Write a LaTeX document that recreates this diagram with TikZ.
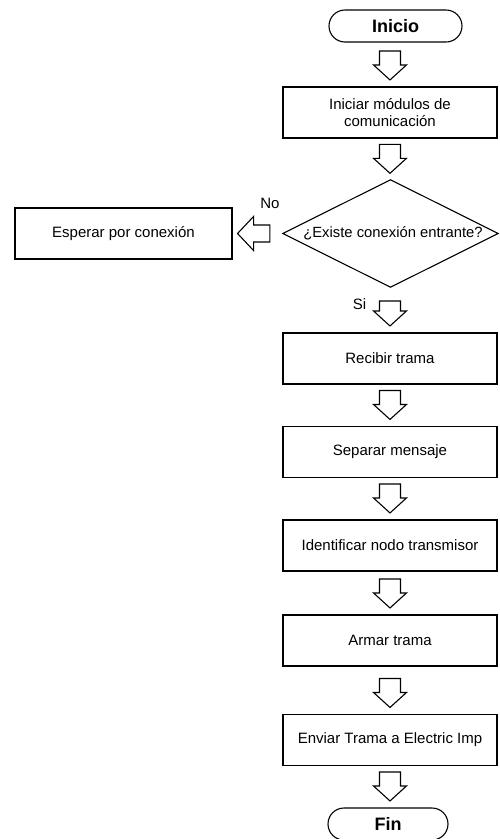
\documentclass[tikz,border=0pt]{standalone}
\usepackage{fontspec}
\setmainfont{Liberation Sans}
\usetikzlibrary{calc}
% down block arrow: #2 source, #3 target, #4 node giving the x position, #1 length
\newcommand\downarr[4][29]{%
  \draw[blockarr] let \p1=(#2.south), \p2=(#3.north), \p3=(#4.center) in
  (\x3-10.5pt,\y2+6.5pt+#1pt) -- (\x3+10.5pt,\y2+6.5pt+#1pt)
  -- (\x3+10.5pt,\y2+21.5pt) -- (\x3+16.5pt,\y2+21.5pt)
  -- (\x3,\y2+6.5pt) -- (\x3-16.5pt,\y2+21.5pt)
  -- (\x3-10.5pt,\y2+21.5pt) -- cycle;}
\begin{document}
\begin{tikzpicture}[x=1pt,y=-1pt,
  box/.style={draw, line width=1.1pt, minimum width=214pt, minimum height=51pt,
    inner sep=0pt, align=center, font=\fontsize{15}{17.5}\selectfont},
  term/.style={draw, line width=1.1pt, rounded corners=16pt, minimum height=32pt,
    inner sep=0pt, font=\bfseries\fontsize{18}{20}\selectfont},
  dec/.style={minimum width=215pt, minimum height=107pt, inner sep=0pt},
  dectext/.style={inner sep=0pt, font=\fontsize{14.8}{17}\selectfont},
  lbl/.style={inner sep=0pt, font=\fontsize{15}{17}\selectfont},
  blockarr/.style={draw, line width=1.1pt, fill=white, line join=miter}]
\useasboundingbox (0,0) rectangle (499,839);
\clip (0,0) rectangle (499,839);
\fill[white] (0,0) rectangle (499,839);

\node[term, minimum width=133pt] (start) at (395.5,26) {Inicio};
\node[box] (b1) at (390,112.5) {Iniciar módulos de\\comunicación};
\node[dec] (dec) at (390.5,233.5) {};
\draw[line width=1.1pt, line join=miter] (dec.north) -- (dec.east) -- (dec.south) -- (dec.west) -- cycle;
\node[dectext] (dect) at (393,233.5) {¿Existe conexión entrante?};
\node[box, minimum width=217pt] (wait) at (123.5,233.5) {Esperar por conexión};
\node[box] (b2) at (390,358.5) {Recibir trama};
\node[box] (b3) at (390,452) {Separar mensaje};
\node[box] (b4) at (390,545.5) {Identificar nodo transmisor};
\node[box] (b5) at (390,640.5) {Armar trama};
\node[box] (b6) at (390,740) {Enviar Trama a Electric Imp};
\node[term, minimum width=120pt] (end) at (388,824) {Fin};
\node[lbl] (no) at (270,203) {No};
\node[lbl] (si) at (359.5,304) {Si};

\downarr{start}{b1}{b1}
\downarr{b1}{dec}{b1}
\downarr[25]{dec}{b2}{b2}
\downarr{b2}{b3}{b3}
\downarr{b3}{b4}{b4}
\downarr{b4}{b5}{b5}
\downarr{b5}{b6}{b6}
\downarr{b6}{end}{b6}

\draw[blockarr] let \p1=(dec.west), \p2=(wait.east) in
  (\x1-13pt,\y2+8.5pt) -- (\x2+21pt,\y2+8.5pt) -- (\x2+21pt,\y2+17pt)
  -- (\x2+5pt,\y2) -- (\x2+21pt,\y2-17pt) -- (\x2+21pt,\y2-8.5pt)
  -- (\x1-13pt,\y2-8.5pt) -- cycle;
\end{tikzpicture}
\end{document}
